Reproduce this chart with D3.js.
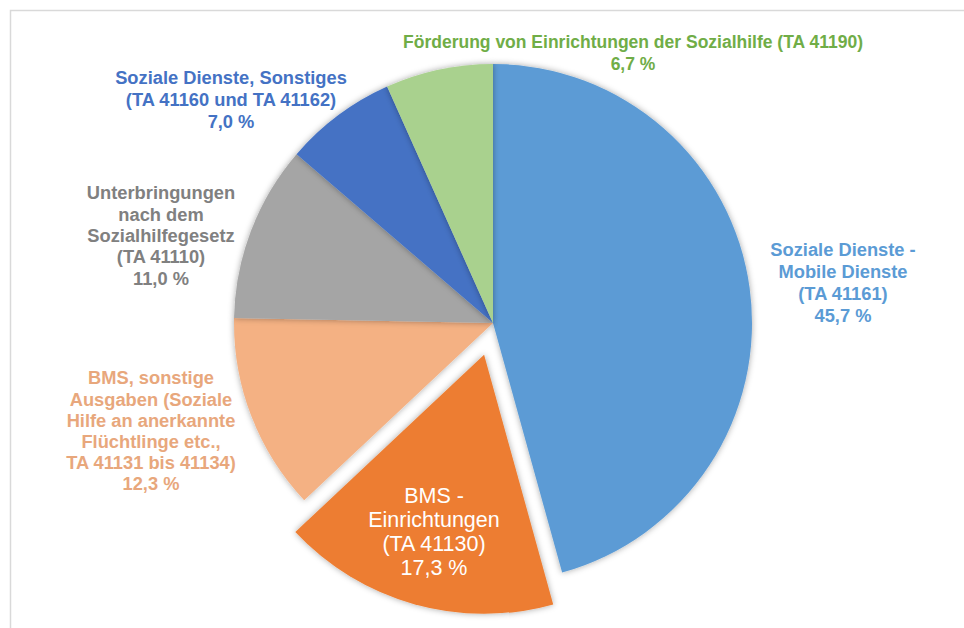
<!DOCTYPE html>
<html>
<head>
<meta charset="utf-8">
<script src="https://cdn.jsdelivr.net/npm/d3@7"></script>
<style>
  html, body { margin: 0; padding: 0; background: #fff; }
  svg { display: block; font-family: "Liberation Sans", Arial, sans-serif; }
</style>
</head>
<body>
<div id="chart"></div>
<script>
// slices, clockwise from 12 o'clock
const categories = [
  ['Soziale Dienste -', 'Mobile Dienste', '(TA 41161)'],
  ['BMS -', 'Einrichtungen', '(TA 41130)'],
  ['BMS, sonstige', 'Ausgaben (Soziale', 'Hilfe an anerkannte', 'Flüchtlinge etc.,', 'TA 41131 bis 41134)'],
  ['Unterbringungen', 'nach dem', 'Sozialhilfegesetz', '(TA 41110)'],
  ['Soziale Dienste, Sonstiges', '(TA 41160 und TA 41162)'],
  ['Förderung von Einrichtungen der Sozialhilfe (TA 41190)']
]
const values = [45.7, 17.3, 12.3, 11.0, 7.0, 6.7]

const sliceColors = ['#5b9bd5', '#ed7d31', '#f4b183', '#a5a5a5', '#4472c4', '#a9d18e']
const labelColors = ['#5b9bd5', '#ffffff', '#e8a77c', '#808080', '#4472c4', '#70ad47']
// label anchor: centre x, first line y, font size, line height
const labelPos = [[843, 250, 18.3, 22], [434, 495, 21.5, 24.3], [151, 378, 18.3, 21.2], [161, 193, 18.3, 21.3], [231, 78, 18.3, 22], [633, 42, 17.5, 21.5]]

const width = 964, height = 628
const cx = 493, cy = 323, radius = 259
const explode = 33

const svg = d3.select('#chart').append('svg')
  .attr('width', width)
  .attr('height', height)

// frame
svg.append('path')
  .attr('d', `M10.5,${height} V10.5 H${width}`)
  .attr('fill', 'none')
  .attr('stroke', '#d9d9d9')
  .attr('stroke-width', 1.5)

const defs = svg.append('defs')
const shadow = defs.append('filter').attr('id', 'shadow')
  .attr('x', '-20%').attr('y', '-20%').attr('width', '140%').attr('height', '140%')
shadow.append('feDropShadow')
  .attr('dx', 0).attr('dy', 0)
  .attr('stdDeviation', 3)
  .attr('flood-color', '#000')
  .attr('flood-opacity', 0.35)

const pie = d3.pie().sort(null).value(d => d)
const arc = d3.arc().innerRadius(0).outerRadius(radius)

const arcs = pie(values)

const g = svg.append('g')
  .attr('transform', `translate(${cx},${cy})`)

g.selectAll('path.slice')
  .data(arcs)
  .join('path')
  .attr('class', 'slice')
  .attr('d', arc)
  .attr('fill', (d, i) => sliceColors[i])
  .attr('filter', 'url(#shadow)')
  .attr('transform', (d, i) => {
    if (i !== 1) return null
    let a = (d.startAngle + d.endAngle) / 2
    return `translate(${explode * Math.sin(a)},${-explode * Math.cos(a)})`
  })

const fmt = v => v.toFixed(1).replace('.', ',') + ' %'

arcs.forEach((d, i) => {
  let lines = categories[i].concat([fmt(values[i])])
  let inside = i === 1
  let [lx, ly, fs, lh] = labelPos[i]
  let t = svg.append('text')
    .attr('text-anchor', 'middle')
    .attr('fill', labelColors[i])
    .attr('font-size', fs)
    .attr('font-weight', inside ? 'normal' : 'bold')
  lines.forEach((line, j) => {
    t.append('tspan')
      .attr('x', lx)
      .attr('y', ly + j * lh)
      .attr('dy', '0.35em')
      .text(line)
  })
})
</script>
</body>
</html>
